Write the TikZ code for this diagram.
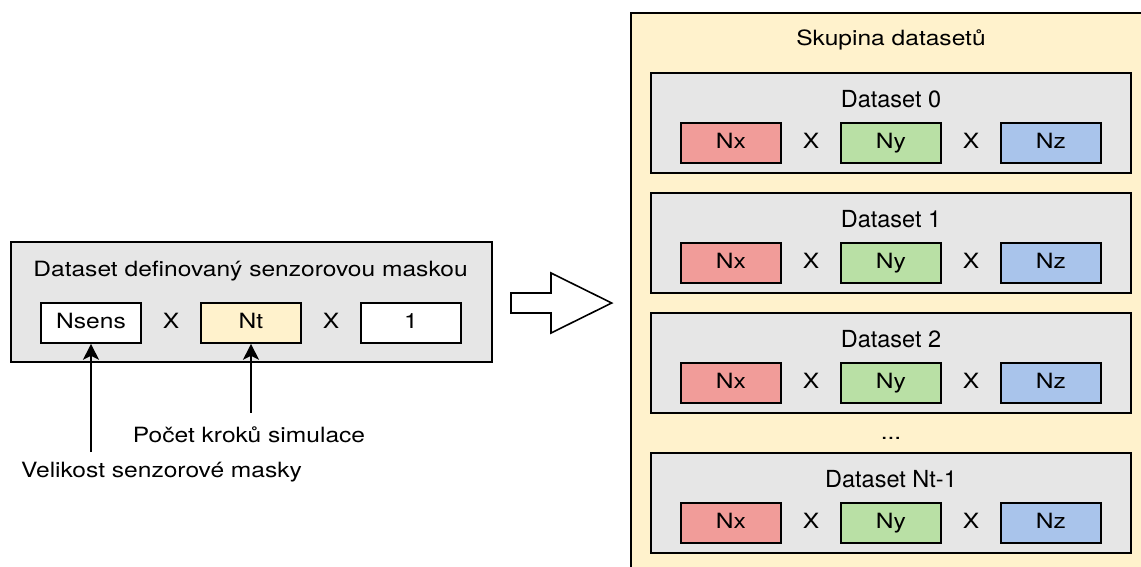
\documentclass[tikz,border=0pt]{standalone}
\usepackage{fontspec}
\setmainfont{TeX Gyre Heros}
\newfontfamily\widesans[FakeStretch=1.17]{TeX Gyre Heros}
\usetikzlibrary{arrows.meta}

\definecolor{panelgray}{HTML}{E6E6E6}
\definecolor{paleyellow}{HTML}{FFF2CC}
\definecolor{cellred}{HTML}{F19C99}
\definecolor{cellgreen}{HTML}{B9E0A5}
\definecolor{cellblue}{HTML}{A9C4EB}

\tikzset{
  outline/.style={draw=black, line width=1.6pt},
  bodytext/.style={font=\widesans\fontsize{21}{25}\selectfont, inner sep=0pt},
  titletext/.style={font=\fontsize{23.5}{28}\selectfont, inner sep=0pt, anchor=base},
  cell/.style={outline, bodytext, minimum width=100pt, minimum height=40pt,
               text height=15pt, text depth=5pt},
  times/.style={bodytext, text height=15pt, text depth=5pt},
  panel/.style={outline, fill=panelgray, minimum width=480pt, minimum height=100pt, inner sep=0pt},
  pointer/.style={line width=1.6pt, -{Stealth[length=16pt, width=16pt, inset=4pt]}},
}

\begin{document}
\begin{tikzpicture}[x=1pt, y=-1pt]
\useasboundingbox (0,0) rectangle (1141,566);

% --- left: dataset given by the sensor mask ---
\node[outline, fill=panelgray, minimum width=481pt, minimum height=120pt, inner sep=0pt]
  (maskset) at (251.5,302) {};
\node[bodytext, anchor=base] (masktitle) at (250.5,276.5) {Dataset definovaný senzorovou maskou};
\node[cell, fill=white] (nsens) at (91,323) {Nsens};
\node[times] (mx1) at (171,323) {X};
\node[cell, fill=paleyellow] (nt) at (251,323) {Nt};
\node[times] (mx2) at (331,323) {X};
\node[cell, fill=white] (one) at (411,323) {1};

\node[bodytext, anchor=base] (lblsteps) at (249,442.7) {Počet kroků simulace};
\node[bodytext, anchor=base] (lblmask) at (161.5,477.5) {Velikost senzorové masky};
\coordinate (stepsfoot) at (251,412.5);
\coordinate (maskfoot) at (91,452);
\draw[pointer] (stepsfoot) -- (nt.south);
\draw[pointer] (maskfoot) -- (nsens.south);

% --- block arrow ---
\draw[line width=1.6pt, fill=white]
  (511,293) -- (551,293) -- (551,273) -- (611.7,303) -- (551,333) -- (551,313) -- (511,313) -- cycle;

% --- right: group of datasets ---
\begin{scope}
  \clip (0,0) rectangle (1141,566);
  \fill[paleyellow] (631,13) rectangle (1160,580);
  \draw[line width=1.6pt] (1160,13) -- (631,13) -- (631,580);
\end{scope}
\node[bodytext, anchor=base] (grouptitle) at (891,45.7) {Skupina datasetů};

\foreach \i/\y/\lab in {0/73/Dataset 0, 1/193/Dataset 1, 2/313/Dataset 2, 3/453/Dataset Nt-1} {
  \node[panel] (ds\i) at (891,\y+50) {};
  \node[titletext] (ds\i title) at (891,\y+34) {\lab};
  \node[cell, fill=cellred] (nx\i) at (731,\y+70) {Nx};
  \node[times] (xa\i) at (811,\y+70) {X};
  \node[cell, fill=cellgreen] (ny\i) at (891,\y+70) {Ny};
  \node[times] (xb\i) at (971,\y+70) {X};
  \node[cell, fill=cellblue] (nz\i) at (1051,\y+70) {Nz};
}
\node[bodytext, anchor=base] (gap) at (891,439) {...};
\end{tikzpicture}
\end{document}
